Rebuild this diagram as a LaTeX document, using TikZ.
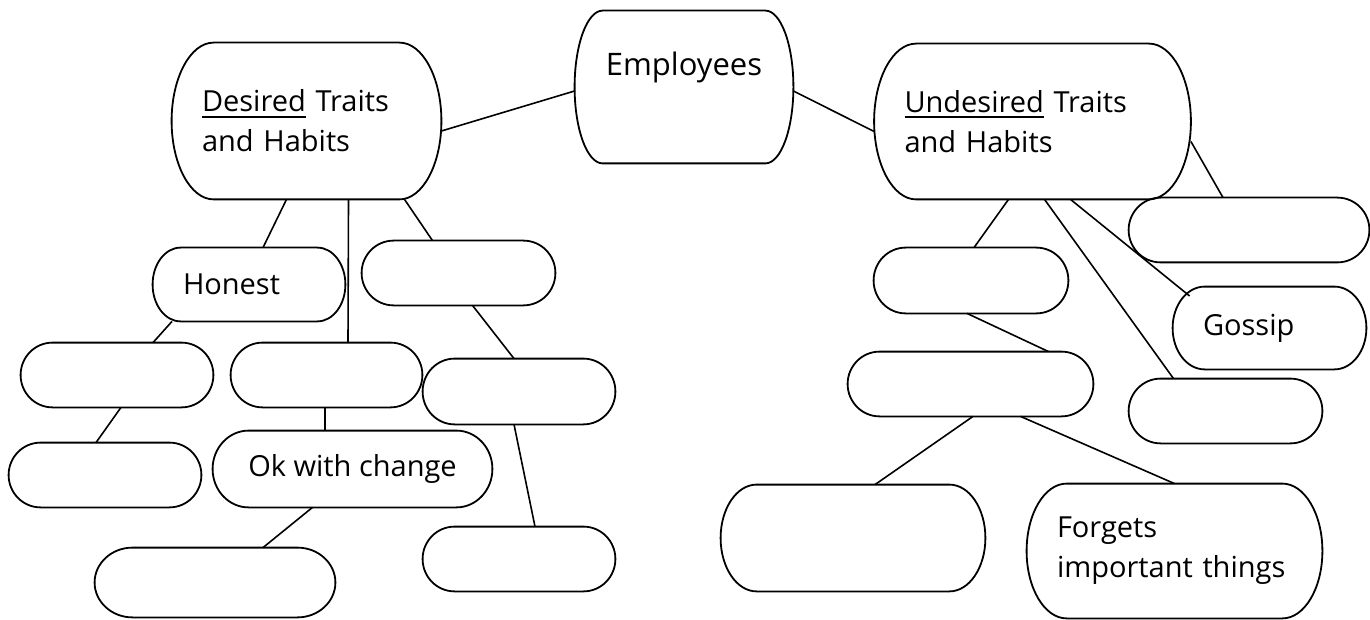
\documentclass[tikz,border=0pt]{standalone}
\usepackage{fontspec}
\setmainfont{Open Sans}
\usetikzlibrary{calc}
\tikzstyle{trait}=[rectangle, inner sep=0pt, inner xsep=15pt, align=left, font=\fontsize{14.5}{20}\selectfont]
\tikzstyle{ovalline}=[draw, line width=0.9pt]
\tikzstyle{link}=[draw, line width=0.8pt]

% underlined word with a heavier rule
\newcommand{\uword}[1]{\setbox0\hbox{#1}\rlap{\rule[-3pt]{\wd0}{1pt}}\box0}
% outline with elliptic corners round a node
\newcommand{\ovalframe}[2]{%
  \draw[ovalline] let \p1=(#1.south west), \p2=(#1.north east), \n1={0.5*(\y2-\y1)} in
    (\x1+#2,\y2) -- (\x2-#2,\y2)
    arc[start angle=90, end angle=0, x radius=#2, y radius=\n1]
    arc[start angle=0, end angle=-90, x radius=#2, y radius=\n1]
    -- (\x1+#2,\y1)
    arc[start angle=270, end angle=180, x radius=#2, y radius=\n1]
    arc[start angle=180, end angle=90, x radius=#2, y radius=\n1] -- cycle;}

\begin{document}
\begin{tikzpicture}[x=0.5pt,y=-0.5pt]
    \useasboundingbox (0,0) rectangle (1370,620);
    % top row
    \node [trait, minimum width=109pt, minimum height=76pt, align=center, font=\fontsize{15.5}{23}\selectfont] (employees) at (684,87) {Employees\\\mbox{}};
    \node [trait, minimum width=134.5pt, minimum height=78pt, text width=104.5pt] (desired) at (306.5,121) {\uword{Desired}~Traits\\and~Habits};
    \node [trait, minimum width=158pt, minimum height=77.5pt, text width=128pt] (undesired) at (1032.5,121.5) {\uword{Undesired}~Traits\\and~Habits};
    % desired side
    \node [trait, minimum width=96pt, minimum height=36.5pt, text width=66pt] (honest) at (249,284.5) {Honest};
    \node [trait, minimum width=96.5pt, minimum height=32pt] (dr1) at (458.5,273) {};
    \node [trait, minimum width=96pt, minimum height=32pt] (dl2a) at (117,375) {};
    \node [trait, minimum width=95.5pt, minimum height=32pt] (dl2b) at (326.5,375) {};
    \node [trait, minimum width=96pt, minimum height=32.5pt] (dr2) at (519,391.5) {};
    \node [trait, minimum width=96pt, minimum height=32pt] (dl3a) at (105,475) {};
    \node [trait, minimum width=139.5pt, minimum height=38pt, align=center] (okchange) at (352.5,469) {Ok with change};
    \node [trait, minimum width=120pt, minimum height=34.5pt] (dl4) at (215,582.5) {};
    \node [trait, minimum width=96pt, minimum height=32pt] (dr3) at (519,559) {};
    % undesired side
    \node [trait, minimum width=120pt, minimum height=32pt] (ur1) at (1249,230) {};
    \node [trait, minimum width=97pt, minimum height=32.5pt] (ul1) at (971,280.5) {};
    \node [trait, minimum width=96.5pt, minimum height=41pt, text width=66.5pt] (gossip) at (1269.5,328) {Gossip};
    \node [trait, minimum width=122.5pt, minimum height=32pt] (ul2) at (970.5,384) {};
    \node [trait, minimum width=96.5pt, minimum height=32pt] (ur3) at (1225.5,411) {};
    \node [trait, minimum width=132pt, minimum height=53pt] (ul3) at (853,538) {};
    \node [trait, minimum width=147.5pt, minimum height=67pt, text width=117.5pt] (forgets) at (1174.5,551) {Forgets\\important~things};

    \foreach \nm/\rad in {employees/14pt, desired/21pt, undesired/21pt, honest/14pt,
        dr1/16pt, dl2a/16pt, dl2b/16pt, dr2/16pt, dl3a/16pt, okchange/18pt, dl4/19pt, dr3/16pt,
        ur1/16pt, ul1/16pt, gossip/16pt, ul2/16pt, ur3/16pt, ul3/18pt, forgets/20pt}
        \ovalframe{\nm}{\rad};

    % links
    \draw[link] ([yshift=-5pt]desired.east) -- ([yshift=-2pt]employees.west);
    \draw[link] ([yshift=-2pt]employees.east) -- ([yshift=-5pt]undesired.west);
    \draw[link] ([xshift=-10pt]desired.south) -- ([xshift=7pt]honest.north);
    \draw[link] ([xshift=21pt]desired.south) -- ([xshift=10.75pt]dl2b.north);
    \draw[link] ([xshift=49pt]desired.south) -- ([xshift=-13pt]dr1.north);
    \draw[link] ([xshift=-38.5pt]honest.south) -- ([xshift=18pt]dl2a.north);
    \draw[link] ([xshift=7pt]dr1.south) -- ([xshift=-2.5pt]dr2.north);
    \draw[link] ([xshift=2pt]dl2a.south) -- ([xshift=-4.5pt]dl3a.north);
    \draw[link] ([xshift=-0.75pt]dl2b.south) -- ([xshift=-13.75pt]okchange.north);
    \draw[link] ([xshift=-20pt]okchange.south) -- ([xshift=24pt]dl4.north);
    \draw[link] ([xshift=-2.5pt]dr2.south) -- ([xshift=8pt]dr3.north);
    \draw[link] ([xshift=-12pt]undesired.south) -- ([xshift=1.5pt]ul1.north);
    \draw[link] ([xshift=6pt]undesired.south) -- ([xshift=-26pt]ur3.north);
    \draw[link] ([xshift=19pt]undesired.south) -- ([xshift=8.5pt,yshift=16pt]gossip.west);
    \draw[link] ([yshift=-10pt]undesired.east) -- ([xshift=-13pt]ur1.north);
    \draw[link] ([xshift=-2pt]ul1.south) -- ([xshift=39pt]ul2.north);
    \draw[link] ([xshift=1.25pt]ul2.south) -- ([xshift=11pt]ul3.north);
    \draw[link] ([xshift=25pt]ul2.south) -- (forgets.north);
\end{tikzpicture}
\end{document}
